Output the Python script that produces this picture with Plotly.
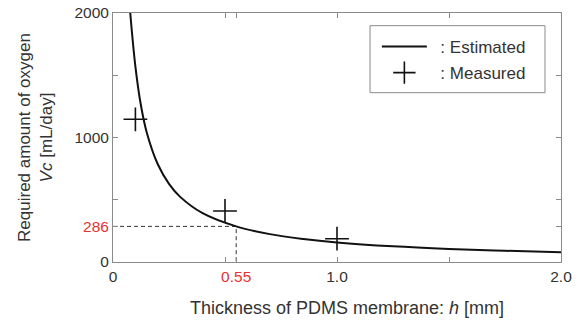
import plotly.graph_objects as go

# Estimated curve
est_h = [0.077, 0.1, 0.125, 0.15, 0.2, 0.25, 0.3, 0.4, 0.55, 0.7, 0.85, 1.0, 1.25, 1.5, 1.75, 2.0]
est_vc = [2000, 1570, 1255, 1045, 785, 628, 523, 392, 286, 224, 185, 157, 126, 105, 90, 79]

# Measured points
meas_h = [0.1, 0.5, 1.0]
meas_vc = [1146, 410, 187]

# Reference point
ref_h = 0.55
ref_vc = 286

x_tickvals = [0, 0.5, 0.55, 1.0, 1.5, 2.0]
x_ticktext = ["0", "", "<span style='color:#e8322f'>0.55</span>", "1.0", "", "2.0"]
y_tickvals = [0, 286, 500, 1000, 1500, 2000]
y_ticktext = ["0", "<span style='color:#e8322f'>286</span>", "", "1000", "", "2000"]

fig = go.Figure()
fig.add_trace(go.Scatter(
    x=[0, ref_h, ref_h], y=[ref_vc, ref_vc, 0], mode="lines",
    line=dict(color="#333333", width=1, dash="4px,3px"),
    showlegend=False, hoverinfo="skip"))
fig.add_trace(go.Scatter(
    x=est_h, y=est_vc, mode="lines", name="\u2002: Estimated", legendgroup="a",
    line=dict(color="#111111", width=2, shape="spline")))
fig.add_trace(go.Scatter(
    x=meas_h, y=meas_vc, mode="markers", name="\u2002: Measured", legendgroup="b",
    marker=dict(symbol="cross-thin", size=17, line=dict(color="#111111", width=1.6))))

axis_common = dict(
    showline=True, linecolor="#8a8a8a", linewidth=1, mirror="ticks",
    ticks="inside", ticklen=5, tickcolor="#8a8a8a", showgrid=False, zeroline=False,
    tickfont=dict(size=15.5, color="#333333"), ticklabeloverflow="allow",
)
fig.update_xaxes(range=[0, 2.0], tickmode="array", tickvals=x_tickvals, ticktext=x_ticktext,
                 automargin=False, **axis_common)
fig.update_yaxes(range=[0, 2000], tickmode="array", tickvals=y_tickvals, ticktext=y_ticktext,
                 title=dict(text="Required amount of oxygen<br><i>Vc</i> [mL/day]", font=dict(size=17, color="#333333"), standoff=17),
                 automargin="left+right", **axis_common)

fig.update_layout(
    width=585, height=329,
    margin=dict(l=113, r=24, t=13, b=67),
    plot_bgcolor="white", paper_bgcolor="white",
    font=dict(family="Liberation Sans, Arial, sans-serif", color="#333333"),
    legend=dict(x=0.589, y=0.936, xanchor="left", yanchor="top",
                borderwidth=0, bgcolor="rgba(0,0,0,0)",
                font=dict(size=17, color="#333333"), tracegroupgap=1, itemwidth=45),
    shapes=[dict(type="rect", xref="paper", yref="paper",
                 x0=0.5737, x1=0.9643, y0=0.680, y1=0.949,
                 line=dict(color="#8a8a8a", width=1), fillcolor="white", layer="below")],
    annotations=[dict(text="Thickness of PDMS membrane: <i>h</i> [mm]", xref="paper", yref="paper",
                      x=0.5223, y=-0.185, xanchor="center", yanchor="middle", showarrow=False,
                      font=dict(size=18, color="#333333"))],
)
fig.write_html("out.html", config={"displayModeBar": False},
               post_script="document.body.style.margin='0';")
